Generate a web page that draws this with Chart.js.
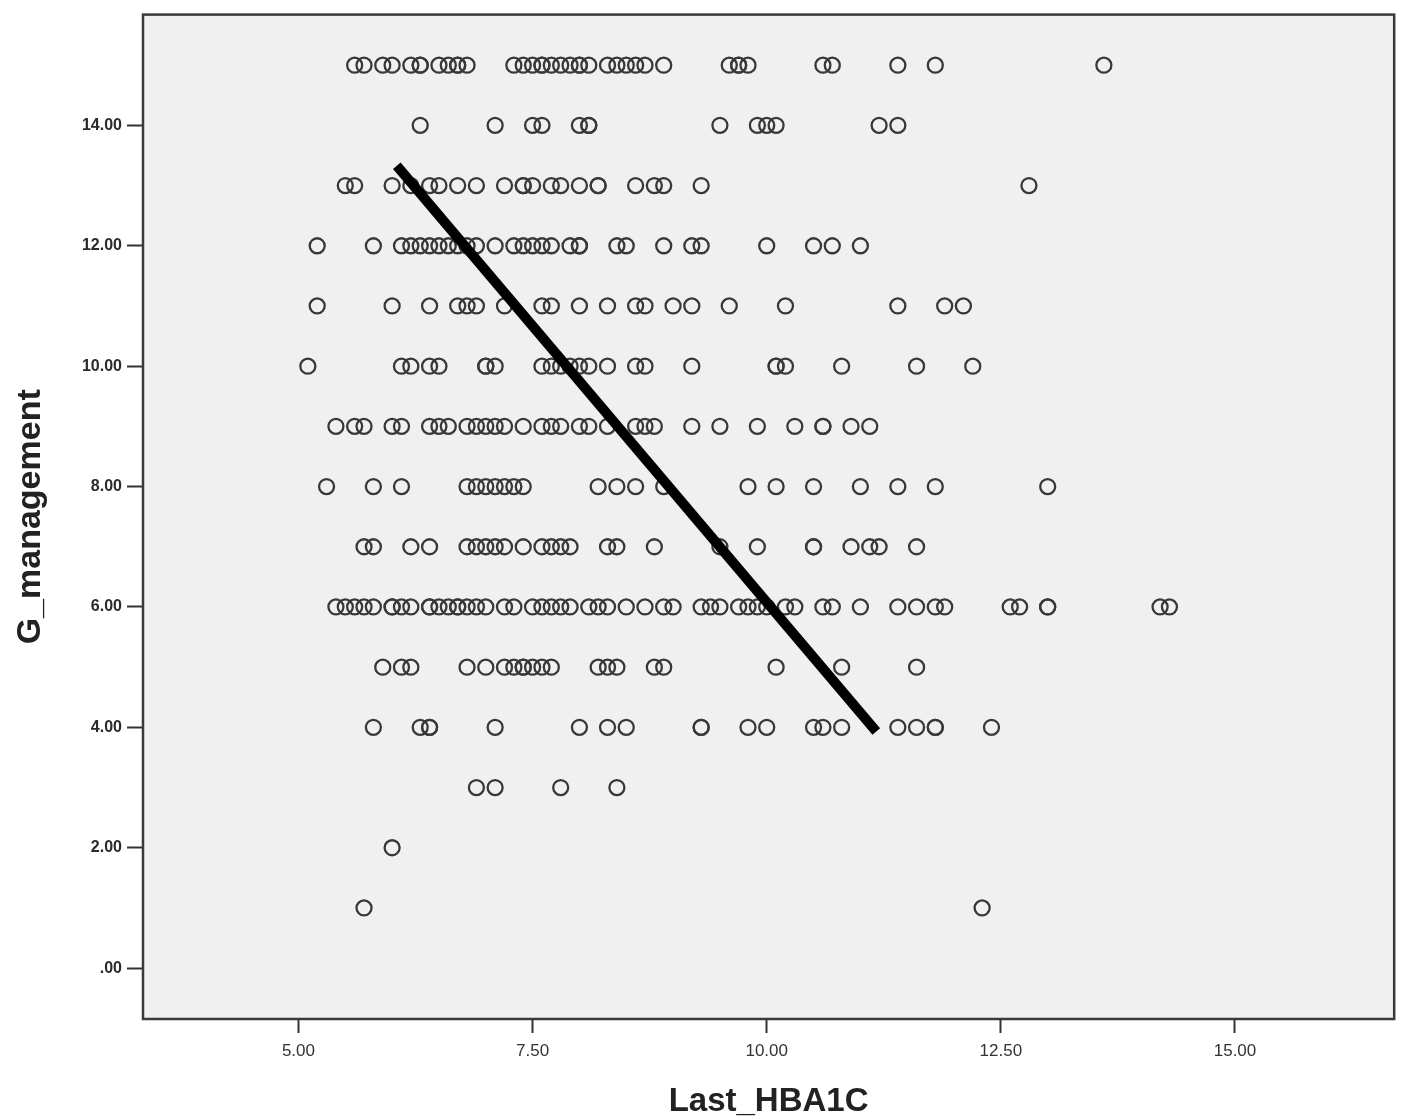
<!DOCTYPE html>
<html>
<head>
<meta charset="utf-8">
<title>G_management vs Last_HBA1C</title>
<script src="https://cdn.jsdelivr.net/npm/chart.js@4.4.1/dist/chart.umd.min.js"></script>
<style>
    html, body { margin: 0; padding: 0; background: #ffffff; }
    #wrap { position: relative; width: 1404px; height: 1119px; }
</style>
</head>
<body>
<div id="wrap"><canvas id="scatterChart"></canvas></div>
<script>
// Last_HBA1C readings for each G_management score
const g15 = [5.6, 5.7, 5.9, 6.0, 6.2, 6.3, 6.3, 6.5, 6.6, 6.7, 6.7, 6.8, 7.3, 7.4, 7.5, 7.6, 7.6, 7.7, 7.8, 7.9, 8.0, 8.0, 8.1, 8.3, 8.4, 8.5, 8.6, 8.7, 8.9, 9.6, 9.7, 9.7, 9.8, 10.6, 10.7, 11.4, 11.8, 13.6];
const g14 = [6.3, 7.1, 7.5, 7.6, 8.0, 8.1, 8.1, 9.5, 9.9, 10.0, 10.1, 11.2, 11.4];
const g13 = [5.5, 5.6, 6.0, 6.2, 6.4, 6.5, 6.7, 6.9, 7.2, 7.4, 7.4, 7.5, 7.7, 7.8, 8.0, 8.2, 8.2, 8.6, 8.8, 8.9, 9.3, 12.8];
const g12 = [5.2, 5.8, 6.1, 6.2, 6.3, 6.4, 6.5, 6.6, 6.7, 6.8, 6.9, 7.1, 7.3, 7.4, 7.5, 7.6, 7.7, 7.9, 8.0, 8.0, 8.4, 8.5, 8.9, 9.2, 9.3, 10.0, 10.5, 10.7, 11.0];
const g11 = [5.2, 6.0, 6.4, 6.7, 6.8, 6.9, 7.2, 7.6, 7.7, 8.0, 8.3, 8.6, 8.7, 9.0, 9.2, 9.6, 10.2, 11.4, 11.9, 12.1];
const g10 = [5.1, 6.1, 6.2, 6.4, 6.5, 7.0, 7.0, 7.1, 7.6, 7.7, 7.8, 7.9, 8.0, 8.1, 8.3, 8.6, 8.7, 9.2, 10.1, 10.1, 10.2, 10.8, 11.6, 12.2];
const g9 = [5.4, 5.6, 5.7, 6.0, 6.1, 6.4, 6.5, 6.6, 6.8, 6.9, 7.0, 7.1, 7.2, 7.4, 7.6, 7.7, 7.8, 8.0, 8.1, 8.3, 8.6, 8.7, 8.8, 9.2, 9.5, 9.9, 10.3, 10.6, 10.6, 10.9, 11.1];
const g8 = [5.3, 5.8, 6.1, 6.8, 6.9, 7.0, 7.1, 7.2, 7.3, 7.4, 8.2, 8.4, 8.6, 8.9, 9.8, 10.1, 10.5, 11.0, 11.4, 11.8, 13.0];
const g7 = [5.7, 5.8, 6.2, 6.4, 6.8, 6.9, 7.0, 7.1, 7.2, 7.4, 7.6, 7.7, 7.8, 7.9, 8.3, 8.4, 8.8, 9.5, 9.9, 10.5, 10.5, 10.9, 11.1, 11.2, 11.6];
const g6 = [5.4, 5.5, 5.6, 5.7, 5.8, 6.0, 6.0, 6.1, 6.2, 6.4, 6.4, 6.5, 6.6, 6.7, 6.7, 6.8, 6.9, 7.0, 7.2, 7.3, 7.5, 7.6, 7.7, 7.8, 7.9, 8.1, 8.2, 8.3, 8.5, 8.7, 8.9, 9.0, 9.3, 9.4, 9.5, 9.7, 9.8, 9.9, 10.0, 10.2, 10.3, 10.6, 10.7, 11.0, 11.4, 11.6, 11.8, 11.9, 12.6, 12.7, 13.0, 13.0, 14.2, 14.3];
const g5 = [5.9, 6.1, 6.2, 6.8, 7.0, 7.2, 7.3, 7.4, 7.4, 7.5, 7.6, 7.7, 8.2, 8.3, 8.4, 8.8, 8.9, 10.1, 10.8, 11.6];
const g4 = [5.8, 6.3, 6.4, 6.4, 7.1, 8.0, 8.3, 8.5, 9.3, 9.3, 9.8, 10.0, 10.5, 10.6, 10.8, 11.4, 11.6, 11.8, 11.8, 12.4];
const g3 = [6.9, 7.1, 7.8, 8.4];
const g2 = [6.0];
const g1 = [5.7, 12.3];

const gScores = [15, 14, 13, 12, 11, 10, 9, 8, 7, 6, 5, 4, 3, 2, 1];
const hba1cRows = [g15, g14, g13, g12, g11, g10, g9, g8, g7, g6, g5, g4, g3, g2, g1];

// thick trend line drawn over the cloud
const lineHba1c = [6.05, 11.17];
const lineG = [13.33, 3.93];

const xTickValues = [5, 7.5, 10, 12.5, 15];
const yTickValues = [0, 2, 4, 6, 8, 10, 12, 14];

const points = [];
hba1cRows.forEach((row, i) => {
    row.forEach(x => points.push({ x: x, y: gScores[i] }));
});
const linePoints = lineHba1c.map((x, i) => ({ x: x, y: lineG[i] }));

// grey plot background and frame
const plotFrame = {
    id: 'plotFrame',
    beforeDatasetsDraw(chart) {
        const { ctx, chartArea: a } = chart;
        ctx.save();
        ctx.fillStyle = '#f0f0f0';
        ctx.fillRect(a.left, a.top, a.right - a.left, a.bottom - a.top);
        ctx.restore();
    },
    afterDraw(chart) {
        const { ctx, chartArea: a } = chart;
        ctx.save();
        ctx.strokeStyle = '#3a3a3a';
        ctx.lineWidth = 2.5;
        ctx.strokeRect(a.left, a.top, a.right - a.left, a.bottom - a.top);
        ctx.restore();
    }
};

const ctx = document.getElementById('scatterChart').getContext('2d');

new Chart(ctx, {
    type: 'scatter',
    data: {
        datasets: [
            {
                label: 'trend',
                data: linePoints,
                showLine: true,
                borderColor: '#000000',
                borderWidth: 10,
                borderCapStyle: 'butt',
                pointRadius: 0,
                order: 0
            },
            {
                label: 'G_management',
                data: points,
                pointStyle: 'circle',
                pointRadius: 7.5,
                borderWidth: 2.3,
                borderColor: '#383838',
                backgroundColor: 'rgba(0, 0, 0, 0)',
                order: 1
            }
        ]
    },
    options: {
        responsive: true,
        maintainAspectRatio: false,
        animation: false,
        events: [],
        layout: { padding: { top: 12, right: 8, left: 0, bottom: 0 } },
        plugins: {
            legend: { display: false },
            tooltip: { enabled: false }
        },
        scales: {
            x: {
                type: 'linear',
                min: 3.34,
                max: 16.70,
                afterBuildTicks: scale => { scale.ticks = xTickValues.map(v => ({ value: v })); },
                afterFit: scale => { scale.height = 100; },
                border: { display: false },
                grid: {
                    drawOnChartArea: false,
                    drawTicks: true,
                    tickLength: 14,
                    tickColor: '#333333',
                    tickWidth: 2
                },
                ticks: {
                    color: '#333333',
                    padding: 8,
                    font: { family: "'Liberation Sans', Arial, sans-serif", size: 17 },
                    callback: value => value.toFixed(2)
                },
                title: {
                    display: true,
                    text: 'Last_HBA1C',
                    color: '#222222',
                    padding: { top: 0, bottom: 1 },
                    font: { family: "'Liberation Sans', Arial, sans-serif", size: 33, weight: 'bold', lineHeight: 1.0 }
                }
            },
            y: {
                type: 'linear',
                min: -0.845,
                max: 15.84,
                afterBuildTicks: scale => { scale.ticks = yTickValues.map(v => ({ value: v })); },
                afterFit: scale => { scale.width = 143; },
                border: { display: false },
                grid: {
                    drawOnChartArea: false,
                    drawTicks: true,
                    tickLength: 16,
                    tickColor: '#333333',
                    tickWidth: 2
                },
                ticks: {
                    color: '#2a2a2a',
                    padding: 5,
                    font: { family: "'Liberation Sans', Arial, sans-serif", size: 16, weight: 'bold' },
                    callback: value => value === 0 ? '.00' : value.toFixed(2)
                },
                title: {
                    display: true,
                    text: 'G_management',
                    color: '#222222',
                    padding: { top: 10, bottom: 0 },
                    font: { family: "'Liberation Sans', Arial, sans-serif", size: 34, weight: 'bold' }
                }
            }
        }
    },
    plugins: [plotFrame]
});
</script>
</body>
</html>
